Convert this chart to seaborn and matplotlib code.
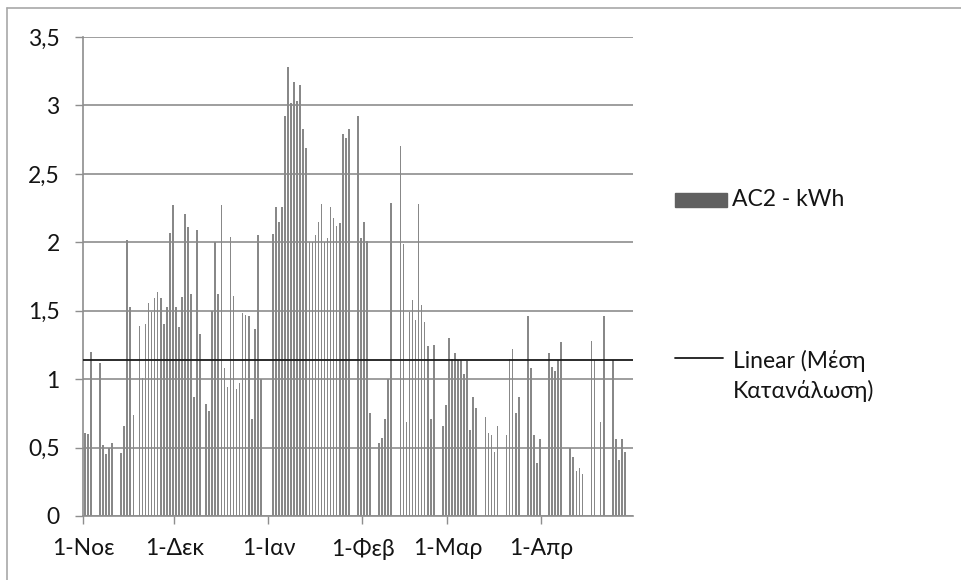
import numpy as np
import pandas as pd
import matplotlib
matplotlib.use("Agg")
import matplotlib.pyplot as plt
import seaborn as sns
from matplotlib.patches import Rectangle
from matplotlib.lines import Line2D

# ---- data (daily kWh, 1 Nov .. 29 Apr) ----
kwh_nov = [0.61, 0.60, 1.20, 0, 0, 1.12, 0.52, 0.45, 0.50, 0.53, 0, 0, 0.46, 0.66, 2.02,
           1.53, 0.74, 0, 1.39, 1.01, 1.40, 1.56, 1.49, 1.59, 1.64, 1.59, 1.40, 1.53, 2.07, 2.27]
kwh_dec = [1.53, 1.38, 1.60, 2.21, 2.11, 1.62, 0.87, 2.09, 1.33, 0, 0.82, 0.77, 1.50, 2.00, 1.62,
           2.27, 1.08, 0.94, 2.04, 1.61, 0.93, 0.97, 1.48, 1.47, 1.46, 0.71, 1.37, 2.05, 1.00, 0, 0]
kwh_jan = [0, 2.06, 2.26, 2.15, 2.26, 2.92, 3.28, 3.02, 3.17, 3.03, 3.15, 2.83, 2.69, 2.00, 2.00,
           2.05, 2.15, 2.28, 2.00, 2.03, 2.26, 2.18, 2.12, 2.14, 2.79, 2.76, 2.83, 0, 0, 2.92, 2.03]
kwh_feb = [2.15, 2.01, 0.75, 0, 0, 0.53, 0.57, 0.71, 1.00, 2.29, 0, 0, 2.70, 1.99, 0.69,
           1.49, 1.58, 1.43, 2.28, 1.54, 1.42, 1.24, 0.71, 1.25, 0, 0, 0.66, 0.81]
kwh_mar = [1.30, 1.15, 1.19, 1.14, 1.14, 1.04, 1.13, 0.63, 0.87, 0.79, 0, 0, 0.72, 0.61, 0.59,
           0.47, 0.66, 0, 0, 0.59, 1.15, 1.22, 0.75, 0.87, 0, 0, 1.46, 1.08, 0.59, 0.39, 0.56]
kwh_apr = [0, 0, 1.19, 1.09, 1.06, 1.14, 1.27, 0, 0, 0.50, 0.43, 0.33, 0.35, 0.31, 0,
           0, 1.28, 1.14, 0, 0.69, 1.46, 0, 0, 1.14, 0.56, 0.41, 0.56, 0.47, 0, 0]
month_labels = ["1-Νοε", "1-Δεκ", "1-Ιαν", "1-Φεβ", "1-Μαρ", "1-Απρ"]
y_tick_values = [0, 0.5, 1, 1.5, 2, 2.5, 3, 3.5]
y_tick_labels = ["0", "0,5", "1", "1,5", "2", "2,5", "3", "3,5"]
mean_level = 1.14  # Linear (Μέση Κατανάλωση)
series_label = "AC2 - kWh"
trend_label = "Linear (Μέση\nΚατανάλωση)"

values = kwh_nov + kwh_dec + kwh_jan + kwh_feb + kwh_mar + kwh_apr
dates = pd.date_range("2010-11-01", periods=len(values), freq="D")
df = pd.DataFrame({"day": np.arange(len(values)), "kwh": values})

# ---- styling ----
sns.set_theme(style="white")
plt.rcParams["font.family"] = ["Lato", "DejaVu Sans"]
TXT = "#141414"
GRID = "#8e8e8e"
BAR = "#888888"

W, H = 961, 580
fig = plt.figure(figsize=(W / 100, H / 100), dpi=100)
ax = fig.add_axes([83.3 / W, 1 - 516 / H, (632.5 - 83.3) / W, (516 - 37) / H])

sns.barplot(data=df, x="day", y="kwh", color=BAR, saturation=1, width=0.55,
            errorbar=None, linewidth=0, ax=ax, zorder=2)

ax.set_xlim(-0.5, len(values) - 0.5)
ax.set_ylim(0, 3.5)
ax.set_yticks(y_tick_values)
ax.set_yticklabels(y_tick_labels)
month_idx = np.where(dates.day == 1)[0]
ax.set_xticks(month_idx - 0.5)
ax.set_xticklabels(month_labels)
ax.set_xlabel("")
ax.set_ylabel("")

ax.axhline(mean_level, color="#1a1a1a", lw=1.3, zorder=4)

ax.set_axisbelow(True)
ax.yaxis.grid(True, color=GRID, lw=1.2)
ax.xaxis.grid(False)
for s in ["top", "right"]:
    ax.spines[s].set_visible(False)
for s in ["left", "bottom"]:
    ax.spines[s].set_color(GRID)
    ax.spines[s].set_linewidth(1.2)
ax.tick_params(axis="both", which="major", bottom=True, left=True, direction="out",
               length=6, width=1, color=GRID, labelcolor=TXT)
ax.tick_params(axis="y", labelsize=16.5, pad=11)
ax.tick_params(axis="x", labelsize=16.5, pad=10)

# ---- legend (manual, right side) ----
fig.patches.append(Rectangle((675 / W, 1 - 207 / H), 52 / W, 14 / H,
                             transform=fig.transFigure, color="#606060"))
fig.text(732 / W, 1 - 199 / H, series_label, ha="left", va="center",
         fontsize=16.5, color=TXT)
fig.add_artist(Line2D([675 / W, 723 / W], [1 - 358 / H, 1 - 358 / H],
                      transform=fig.transFigure, color="#1a1a1a", lw=1.3))
fig.text(733 / W, 1 - 376 / H, trend_label, ha="left", va="center",
         fontsize=16.5, color=TXT, linespacing=1.45)

# ---- outer chart frame ----
fig.add_artist(Line2D([7 / W, 7 / W], [0, 1 - 8 / H], transform=fig.transFigure,
                      color="#a8a8a8", lw=1.2))
fig.add_artist(Line2D([7 / W, 1], [1 - 8 / H, 1 - 8 / H], transform=fig.transFigure,
                      color="#a8a8a8", lw=1.2))

fig.savefig("out.png", dpi=100)
